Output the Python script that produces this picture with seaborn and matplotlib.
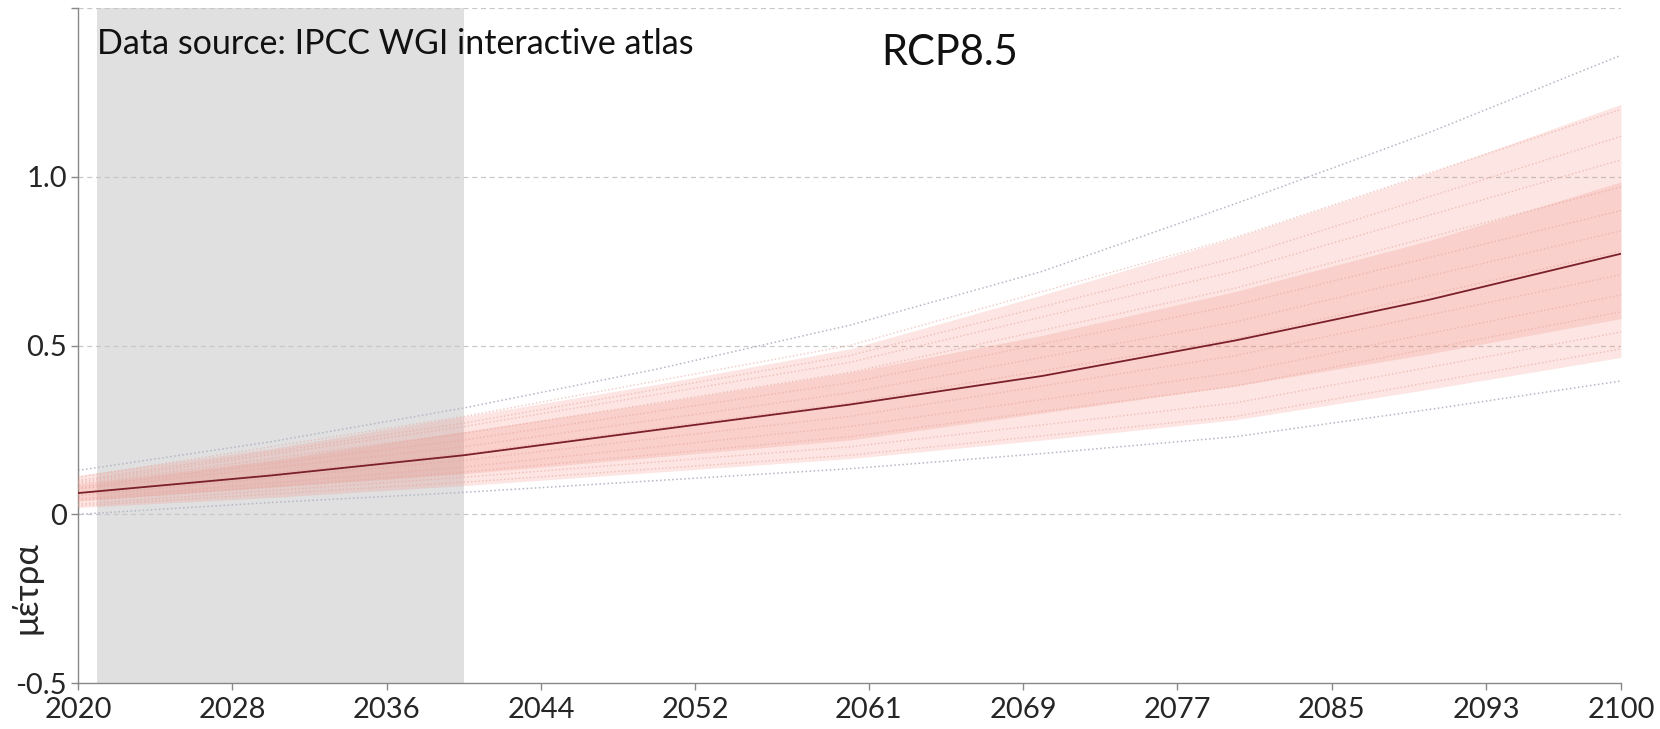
import numpy as np
import pandas as pd
import seaborn as sns
import matplotlib.pyplot as plt

# ensemble statistics, sea level rise (m), RCP8.5
years = [2020, 2030, 2040, 2050, 2060, 2070, 2080, 2090, 2100]
median = [0.063, 0.115, 0.175, 0.250, 0.325, 0.41, 0.515, 0.635, 0.772]
p10 = [0.020, 0.050, 0.085, 0.125, 0.165, 0.22, 0.28, 0.37, 0.465]
p90 = [0.115, 0.195, 0.290, 0.385, 0.490, 0.65, 0.82, 1.01, 1.215]
p25 = [0.040, 0.080, 0.120, 0.170, 0.220, 0.30, 0.38, 0.475, 0.58]
p75 = [0.090, 0.160, 0.245, 0.330, 0.420, 0.53, 0.66, 0.81, 0.985]

# outermost models
model_max = [0.13, 0.215, 0.315, 0.43, 0.56, 0.72, 0.92, 1.13, 1.36]
model_min = [0.0, 0.035, 0.065, 0.10, 0.135, 0.18, 0.23, 0.31, 0.395]

# individual models inside the spread
model_years = [2020, 2040, 2060, 2080, 2100]
models = {
    "m1": [0.110, 0.290, 0.50, 0.82, 1.20],
    "m2": [0.100, 0.270, 0.47, 0.76, 1.12],
    "m3": [0.095, 0.260, 0.45, 0.72, 1.05],
    "m4": [0.090, 0.240, 0.42, 0.67, 0.97],
    "m5": [0.080, 0.220, 0.39, 0.62, 0.90],
    "m6": [0.075, 0.200, 0.36, 0.57, 0.84],
    "m7": [0.060, 0.180, 0.33, 0.52, 0.78],
    "m8": [0.055, 0.160, 0.29, 0.47, 0.71],
    "m9": [0.045, 0.140, 0.26, 0.42, 0.65],
    "m10": [0.040, 0.125, 0.23, 0.38, 0.60],
    "m11": [0.030, 0.110, 0.20, 0.33, 0.54],
    "m12": [0.025, 0.095, 0.175, 0.29, 0.49],
}

xticks = [2020, 2028, 2036, 2044, 2052, 2061, 2069, 2077, 2085, 2093, 2100]
yticks = [-0.5, 0, 0.5, 1.0, 1.5]
ytick_labels = ["-0.5", "0", "0.5", "1.0", ""]
ref_period = (2021, 2040)


def make_plot():
    sns.set_theme(style="white")
    plt.rcParams['font.family'] = ['Lato', 'DejaVu Sans']

    fig = plt.figure(figsize=(16.6, 7.29), dpi=100)
    ax = fig.add_axes([0.047, 0.063, 0.9295, 0.926])

    ax.axvspan(ref_period[0], ref_period[1], color="#e0e0e0", zorder=0, lw=0)

    # outer models, grey dotted
    outer = pd.DataFrame({
        "year": years + years,
        "value": model_max + model_min,
        "model": ["max"] * len(years) + ["min"] * len(years),
    })
    sns.lineplot(ax=ax, data=outer, x="year", y="value", units="model", estimator=None,
                 color="#b4b8c6", linestyle=":", linewidth=1.1, zorder=2)

    band = "#f08070"
    ax.fill_between(years, p10, p90, color=band, alpha=0.2, lw=0, zorder=3)
    ax.fill_between(years, p25, p75, color=band, alpha=0.2, lw=0, zorder=3)

    # inner models, faint pink dotted
    rows = []
    for name, vals in models.items():
        for y, v in zip(model_years, vals):
            rows.append({"model": name, "year": y, "value": v})
    df = pd.DataFrame(rows)
    sns.lineplot(ax=ax, data=df, x="year", y="value", units="model", estimator=None,
                 color="#e8a49c", linestyle=":", linewidth=1.0, alpha=0.6, zorder=3.5)

    sns.lineplot(ax=ax, x=years, y=median, color="#7a1f2b", linewidth=1.3, zorder=4)

    ax.set_xlim(2020, 2100)
    ax.set_ylim(-0.5, 1.5)
    ax.set_xticks(xticks)
    ax.set_yticks(yticks)
    ax.set_yticklabels(ytick_labels)
    ax.tick_params(axis="both", labelsize=21, color="#888888", length=5, width=1,
                   direction="out", left=True, bottom=True, pad=3)
    ax.tick_params(axis="x", pad=5)

    for yv in [0, 0.5, 1.0, 1.5]:
        ax.axhline(yv, color="#c8c8c8", linestyle=(0, (4, 3)), linewidth=0.9, zorder=1)

    for side in ["top", "right"]:
        ax.spines[side].set_visible(False)
    for side in ["left", "bottom"]:
        ax.spines[side].set_color("#888888")
        ax.spines[side].set_linewidth(1.0)

    ax.set_xlabel("")
    ax.set_ylabel("μέτρα", fontsize=25)
    ax.yaxis.set_label_coords(-0.023, 0.141)

    ax.text(0.012, 0.947, "Data source: IPCC WGI interactive atlas", transform=ax.transAxes,
            fontsize=24.5, va="center", ha="left", color="#111111")
    ax.text(0.565, 0.934, "RCP8.5", transform=ax.transAxes,
            fontsize=30, va="center", ha="center", color="#111111")

    fig.savefig("out.png", dpi=100)


if __name__ == '__main__':
    make_plot()
